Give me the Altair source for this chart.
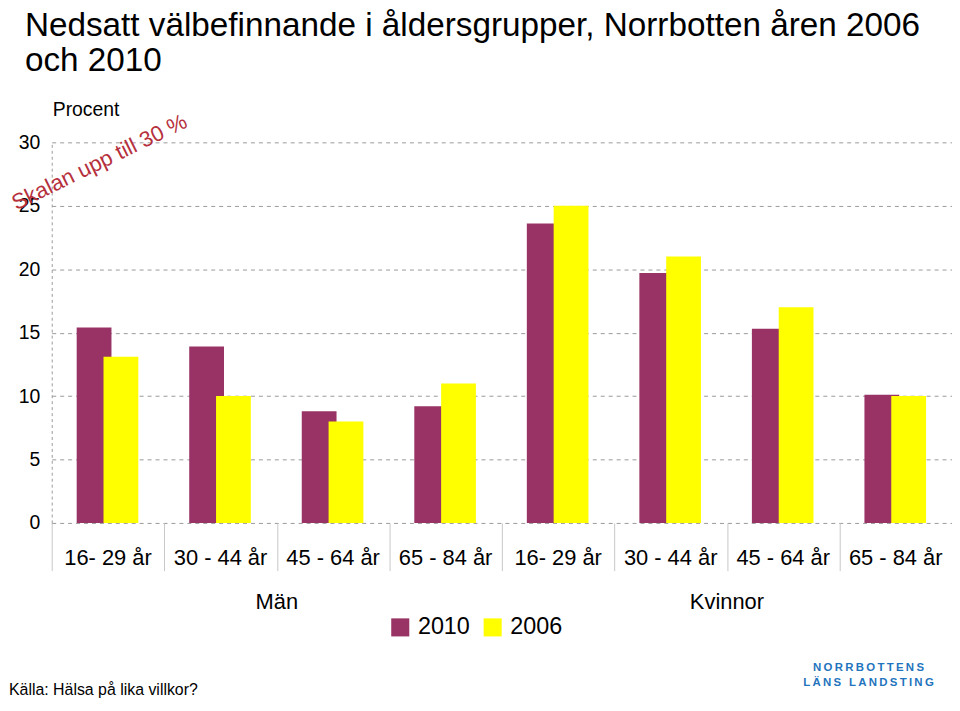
import altair as alt
import pandas as pd

# ---- data ----
categories = ["16- 29 år", "30 - 44 år", "45 - 64 år", "65 - 84 år",
              "16- 29 år", "30 - 44 år", "45 - 64 år", "65 - 84 år"]
groups = ["Män", "Män", "Män", "Män", "Kvinnor", "Kvinnor", "Kvinnor", "Kvinnor"]
values_2010 = [15.4, 13.9, 8.8, 9.2, 23.6, 19.7, 15.3, 10.1]
values_2006 = [13.1, 10.0, 8.0, 11.0, 25.0, 21.0, 17.0, 10.0]
series = ["2010", "2006"]
colors = ["#993366", "#FFFF00"]
y_ticks = [0, 5, 10, 15, 20, 25, 30]

title_lines = ["Nedsatt välbefinnande i åldersgrupper, Norrbotten åren 2006",
               "och 2010"]
y_title = "Procent"
note_text = "Skalan upp till 30 %"
source_text = "Källa: Hälsa på lika villkor?"
logo_words = [["NORRBOTTENS"], ["LÄNS", "LANDSTING"]]

FONT = "Liberation Sans"
W, H = 906, 383
n = len(categories)
U = W / n  # pixels per category slot

rows = []
for i, c in enumerate(categories):
    rows.append({"pos": i + 0.5, "year": "2010", "value": values_2010[i]})
    rows.append({"pos": i + 0.5, "year": "2006", "value": values_2006[i]})
df = pd.DataFrame(rows)

bounds = list(range(n + 1))

xs = alt.Scale(domain=[0, n], nice=False, zero=False, padding=0)
ys = alt.Scale(domain=[0, 30], nice=False)

color = alt.Color("year:N", scale=alt.Scale(domain=series, range=colors),
                  legend=alt.Legend(title=None, orient="none", legendX=339, legendY=476,
                                    direction="horizontal", symbolType="square",
                                    symbolSize=330, symbolOpacity=1,
                                    labelFontSize=23.5, labelFont=FONT, labelColor="#000",
                                    labelOffset=6, columnPadding=11))

bars10 = alt.Chart(df).transform_filter(alt.datum.year == "2010").mark_bar(size=35, xOffset=-14).encode(
    x=alt.X("pos:Q", scale=xs,
            axis=alt.Axis(values=bounds, labels=False, domain=False, grid=False, title=None,
                          ticks=True, tickSize=48, tickColor="#c8c8c8", tickWidth=1)),
    y=alt.Y("value:Q", scale=ys,
            axis=alt.Axis(values=y_ticks, title=None, ticks=False, labelPadding=12,
                          labelFontSize=19.5, labelFont=FONT, labelColor="#000",
                          grid=True, gridDash=[4, 4], gridColor="#9a9a9a",
                          domainDash=[3, 3], domainColor="#9a9a9a")),
    color=color,
)
bars06 = alt.Chart(df).transform_filter(alt.datum.year == "2006").mark_bar(size=35, xOffset=13).encode(
    x=alt.X("pos:Q", scale=xs),
    y=alt.Y("value:Q", scale=ys),
    color=color,
)

cat_df = pd.DataFrame({"pos": [i + 0.5 for i in range(n)], "cat": categories})
cat_text = alt.Chart(cat_df).mark_text(fontSize=22, font=FONT, color="#000", baseline="alphabetic").encode(
    x=alt.X("pos:Q", scale=xs), y=alt.value(425), text="cat:N")

grp_names = list(dict.fromkeys(groups))
grp_pos = [sum(i + 0.5 for i, g in enumerate(groups) if g == gn) / groups.count(gn) for gn in grp_names]
grp_df = pd.DataFrame({"pos": grp_pos, "cat": grp_names})
grp_text = alt.Chart(grp_df).mark_text(fontSize=22, font=FONT, color="#000", baseline="alphabetic").encode(
    x=alt.X("pos:Q", scale=xs), y=alt.value(470), text="cat:N")

def txt(t, px, py, **kw):
    # annotation placed at pixel offset px from the plot's left edge
    return alt.Chart(pd.DataFrame({"pos": [px / U], "cat": [t]})).mark_text(font=FONT, **kw).encode(
        x=alt.X("pos:Q", scale=xs), y=alt.value(py), text="cat:N")

TS = "\u2009"
logo1_str = (TS + " ").join(TS.join(w) for w in logo_words[0])
logo2_str = (TS + " " + TS).join(TS.join(w) for w in logo_words[1])

title1 = txt(title_lines[0], -27, -107, fontSize=33.5, align="left", baseline="alphabetic", color="#000")
title2 = txt(title_lines[1], -27, -72, fontSize=33.5, align="left", baseline="alphabetic", color="#000")
ytitle = txt(y_title, 1, -27, fontSize=19.5, align="left", baseline="alphabetic", color="#000")
note = txt(note_text, 48, 20, fontSize=22, align="center", baseline="middle", angle=334, color="#b5303c")
source = txt(source_text, -43, 556, fontSize=16, align="left", baseline="alphabetic", color="#000")
logo1 = txt(logo1_str, 822, 532, fontSize=11.5, fontWeight="bold", align="center", baseline="alphabetic", color="#1f74bd")
logo2 = txt(logo2_str, 822, 547, fontSize=11.5, fontWeight="bold", align="center", baseline="alphabetic", color="#1f74bd")

chart = alt.layer(
    bars10, bars06, cat_text, grp_text,
    title1, title2, ytitle, note, source, logo1, logo2
).properties(
    width=W, height=H,
    autosize=alt.AutoSizeParams(type="none"),
    padding={"left": 44, "top": 133, "right": 0, "bottom": 178},
).configure_view(strokeWidth=0)

chart.save("out.html", embed_options={"renderer": "svg", "actions": False})
